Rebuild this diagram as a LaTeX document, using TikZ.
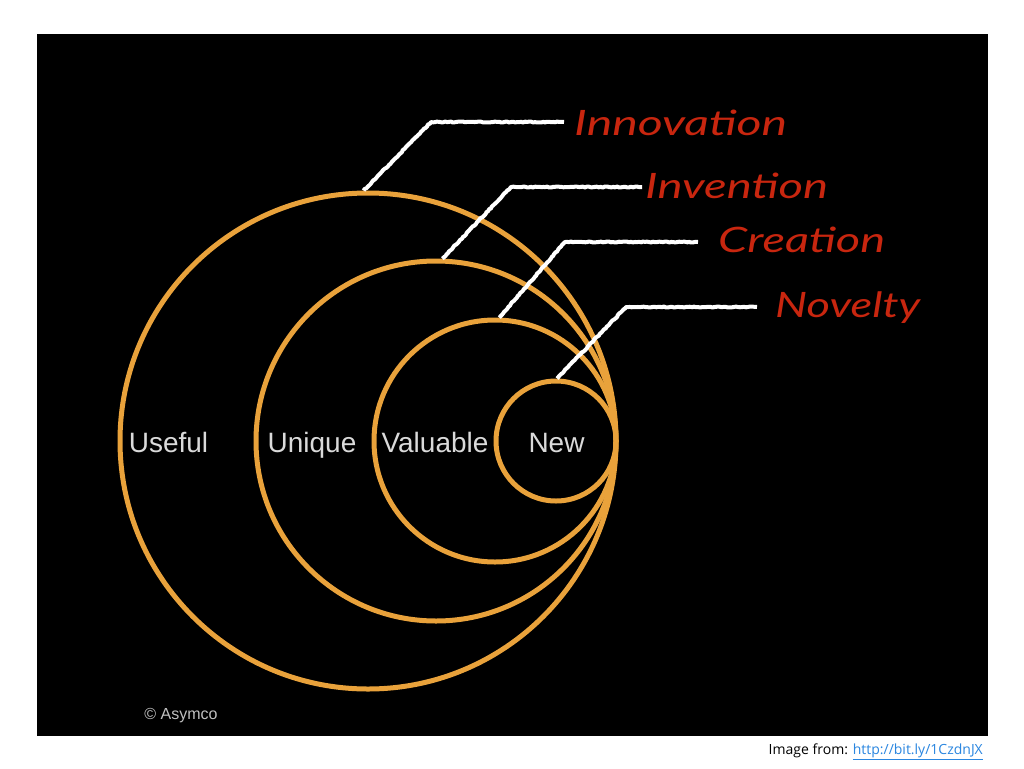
\documentclass[tikz,border=0pt]{standalone}
\usepackage{fontspec}
\setmainfont{Liberation Sans}
\newfontfamily\hand{Lato}
\newfontfamily\opensans{Open Sans}
\usetikzlibrary{decorations.pathmorphing,calc}
\definecolor{ringc}{HTML}{E9A23B}
\definecolor{chalkred}{HTML}{C8260F}
\definecolor{lbl}{HTML}{DADADA}
\definecolor{cpy}{HTML}{C0C0C0}
\definecolor{linkc}{HTML}{2A86E0}
\newcommand\hwd[2]{\resizebox{#1}{\height}{#2}}
\begin{document}
\begin{tikzpicture}[x=1pt,y=-1pt,
  ring/.style={circle,draw=ringc,line width=5pt,inner sep=0pt},
  lab/.style={text=lbl,anchor=base,inner sep=0pt,font=\fontsize{28}{30}\selectfont},
  word/.style={text=chalkred,anchor=base west,inner sep=0pt,font=\hand\itshape\fontsize{35}{40}\selectfont},
  leader/.style={draw=white,line width=4pt,line join=round,decorate,decoration={random steps,segment length=2pt,amplitude=0.5pt}}]
\fill[white] (0,0) rectangle (1024,768);
\useasboundingbox (0,0) rectangle (1024,768);
\fill[black] (37,34) rectangle (988,736);
% circles
\node[ring,minimum size=496pt] (useful) at (368,441) {};
\node[ring,minimum size=360pt] (unique) at (436,441) {};
\node[ring,minimum size=242pt] (valuable) at (495,441) {};
\node[ring,minimum size=120pt] (new) at (556,441) {};
% labels
\node[lab] (lUseful) at (168.5,452) {Useful};
\node[lab] (lUnique) at (312,452) {Unique};
\node[lab] (lValuable) at (435,452) {Valuable};
\node[lab] (lNew) at (556.5,452) {New};
% red words
\node[word] (wInnovation) at (574,135) {\hwd{213pt}{Innovation}};
\node[word] (wInvention) at (645,198) {\hwd{183pt}{Invention}};
\node[word] (wCreation) at (718,252) {\hwd{167pt}{Creation}};
\node[word] (wNovelty) at (775,317) {\hwd{145pt}{Novelty}};
% leaders
\coordinate (k1) at (431,122);
\coordinate (k2) at (511,187);
\coordinate (k3) at (565,242);
\coordinate (k4) at (626,307);
\draw[leader] (useful.91) -- (k1) -- ($(k1 -| wInnovation.west)+(-10,0)$);
\draw[leader] (unique.88) -- (k2) -- ($(k2 -| wInvention.west)+(-3,0)$);
\draw[leader] (valuable.88) -- (k3) -- ($(k3 -| wCreation.west)+(-20,0)$);
\draw[leader] (new.89) -- (k4) -- ($(k4 -| wNovelty.west)+(-18,0)$);
% credits
\node[text=cpy,inner sep=0pt,font=\fontsize{16}{18}\selectfont] (copy) at (181,716) {\textcopyright\ Asymco};
\node[anchor=east,inner sep=0pt,font=\opensans\fontsize{14}{16}\selectfont] (src) at (983,752) {Image from: {\color{linkc}\underline{http://bit.ly/1CzdnJX}}};
\end{tikzpicture}
\end{document}
